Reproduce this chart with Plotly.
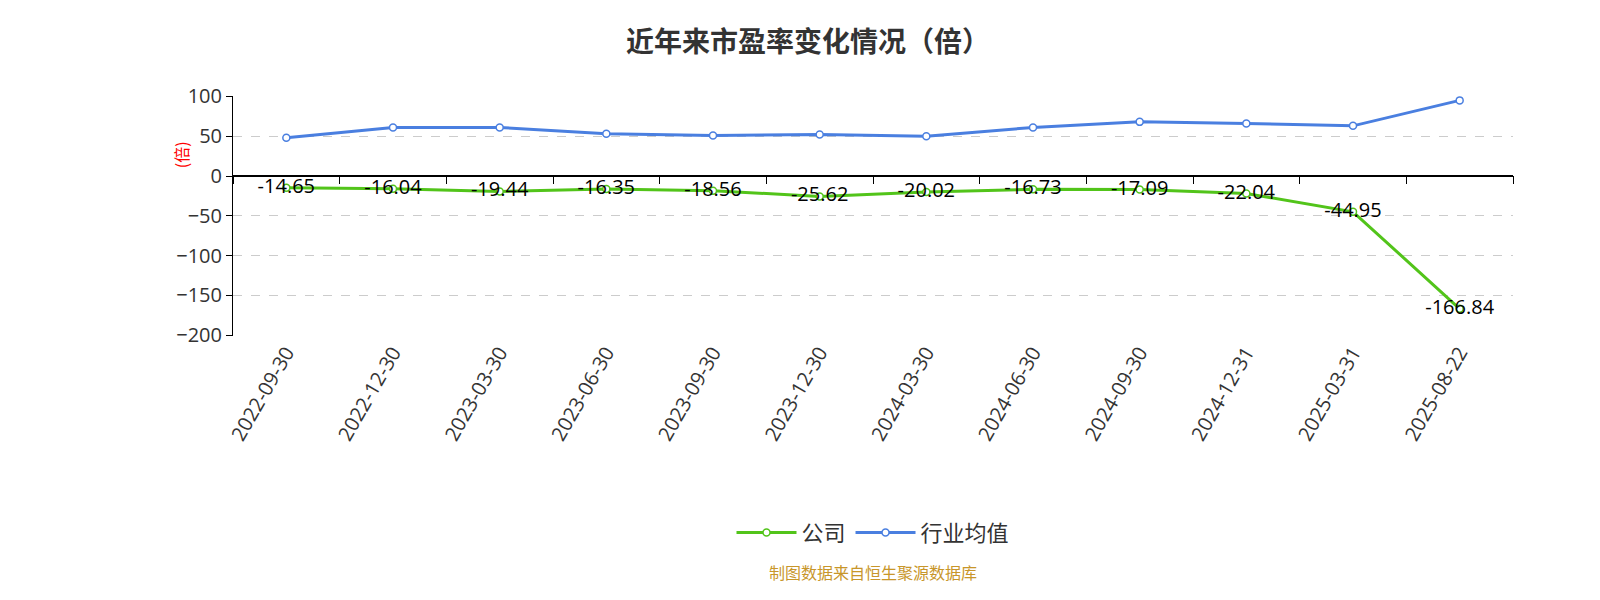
import plotly.graph_objects as go

dates = ["2022-09-30","2022-12-30","2023-03-30","2023-06-30","2023-09-30","2023-12-30",
         "2024-03-30","2024-06-30","2024-09-30","2024-12-31","2025-03-31","2025-08-22"]
company = [-14.65,-16.04,-19.44,-16.35,-18.56,-25.62,-20.02,-16.73,-17.09,-22.04,-44.95,-166.84]
industry = [48,61,61,53,51,52,50,61,68,66,63,95]

fig = go.Figure()
fig.add_trace(go.Scatter(x=dates, y=company, name="公司", mode="lines+markers+text",
    line=dict(color="#52c41a", width=3), marker=dict(size=7, color="white", line=dict(color="#52c41a", width=1.5)),
    text=[f"{v:.2f}" for v in company], textposition="middle center",
    textfont=dict(size=20, color="#000", family="Open Sans")))
fig.add_trace(go.Scatter(x=dates, y=industry, name="行业均值", mode="lines+markers",
    line=dict(color="#4a7fe0", width=3), marker=dict(size=7, color="white", line=dict(color="#4a7fe0", width=1.5))))
fig.add_trace(go.Scatter(x=dates, y=[0]*len(dates), xaxis="x2", mode="lines",
    line=dict(width=0), showlegend=False, hoverinfo="skip"))

fig.update_layout(
    width=1600, height=600, plot_bgcolor="white", paper_bgcolor="white",
    margin=dict(l=225, r=95, t=88, b=272),
    font=dict(family="Open Sans, Noto Sans CJK SC", color="#333"),
    title=dict(text="<b>近年来市盈率变化情况（倍）</b>", x=0.5, y=0.96, xanchor="center",
               font=dict(size=28, color="#333", family="Noto Sans CJK SC")),
    xaxis=dict(type="category", range=[-0.5, 11.5], tickangle=-60, tickfont=dict(size=20, color="#333"),
               showline=False, ticks="", showgrid=False, automargin=False),
    xaxis2=dict(type="category", range=[-0.5, 11.5], overlaying="x", anchor="free", position=201/301,
                side="bottom", showticklabels=False, ticks="outside", ticklen=8, tickcolor="#000",
                tickson="boundaries", showline=True, linecolor="#000", linewidth=1.5, showgrid=False,
                automargin=False),
    yaxis=dict(range=[-201, 100.5], tickvals=[-200,-150,-100,-50,0,50,100], tickfont=dict(size=20, color="#333"),
               showline=True, linecolor="#000", ticks="outside", ticklen=6, tickcolor="#000",
               gridcolor="#ccc", griddash="dash", zeroline=False, automargin=False),
    legend=dict(orientation="h", x=0.5, xanchor="center", y=-0.82, yanchor="middle",
                font=dict(size=22, color="#333", family="Noto Sans CJK SC"), itemwidth=60),
    annotations=[
        dict(text="制图数据来自恒生聚源数据库", x=0.5, xref="paper", y=-1.04, yref="paper",
             showarrow=False, font=dict(size=16, color="#c8962a", family="Noto Sans CJK SC")),
        dict(text="(倍)", x=-0.052, xref="paper", y=0.82, yref="paper", textangle=-90,
             showarrow=False, font=dict(size=16, color="red", family="Noto Sans CJK SC")),
    ],
)
fig.write_html("out.html")
